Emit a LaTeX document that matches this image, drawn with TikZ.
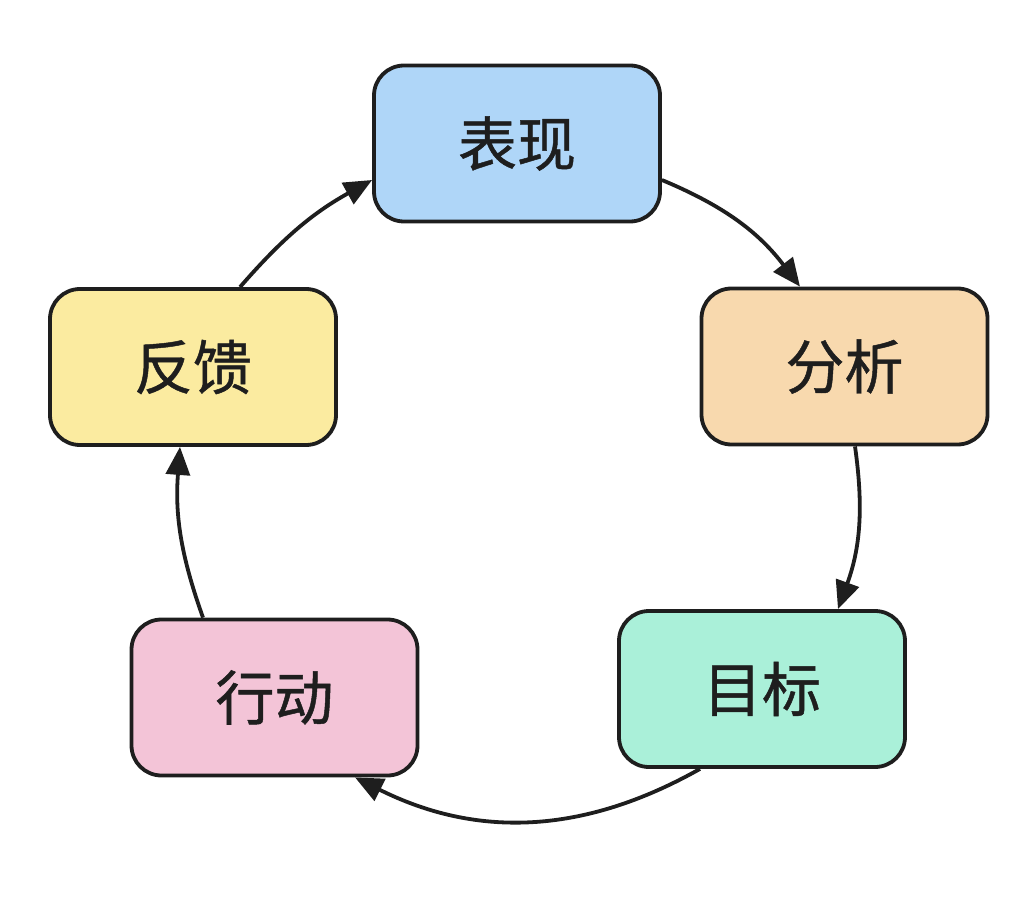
\documentclass[tikz,border=0pt]{standalone}
\usepackage{fontspec}
\setmainfont{Noto Sans CJK SC}[FakeBold=0.8]
\usetikzlibrary{arrows.meta}
\definecolor{ink}{HTML}{1E1E1E}
\definecolor{cblue}{HTML}{AFD6F8}
\definecolor{corange}{HTML}{F8D9AE}
\definecolor{cteal}{HTML}{AAF0D9}
\definecolor{cpink}{HTML}{F3C4D7}
\definecolor{cyellow}{HTML}{FBEBA0}
\begin{document}
\begin{tikzpicture}[x=1pt,y=-1pt,
  stage/.style={draw=ink,line width=3.8pt,rounded corners=30pt,minimum width=286pt,minimum height=156pt,
    inner sep=0pt,font=\fontsize{59}{62}\selectfont,text=ink},
  flow/.style={draw=ink,line width=3.8pt,-{Triangle[length=28pt,width=24pt]}}]
\useasboundingbox (0,0) rectangle (1034,912);
\node[stage,fill=cblue]   (p) at (517,143.5) {表现};
\node[stage,fill=corange] (a) at (844.5,366.5) {分析};
\node[stage,fill=cteal]   (g) at (762,689) {目标};
\node[stage,fill=cpink]   (x) at (274.5,697.5) {行动};
\node[stage,fill=cyellow] (f) at (193,367) {反馈};
\draw[flow] ([yshift=-36.5pt]p.east) to[bend left=15] ([xshift=-44.5pt]a.north);
\draw[flow] ([xshift=10.5pt]a.south) to[bend left=14] ([xshift=76pt]g.north);
\draw[flow] ([xshift=-62pt]g.south) to[bend left=28] ([xshift=80.5pt]x.south);
\draw[flow] ([xshift=-71.5pt]x.north) to[bend left=12] ([xshift=-13pt]f.south);
\draw[flow] ([xshift=47pt]f.north) to[bend left=10] ([yshift=-36.5pt]p.west);
\end{tikzpicture}
\end{document}
